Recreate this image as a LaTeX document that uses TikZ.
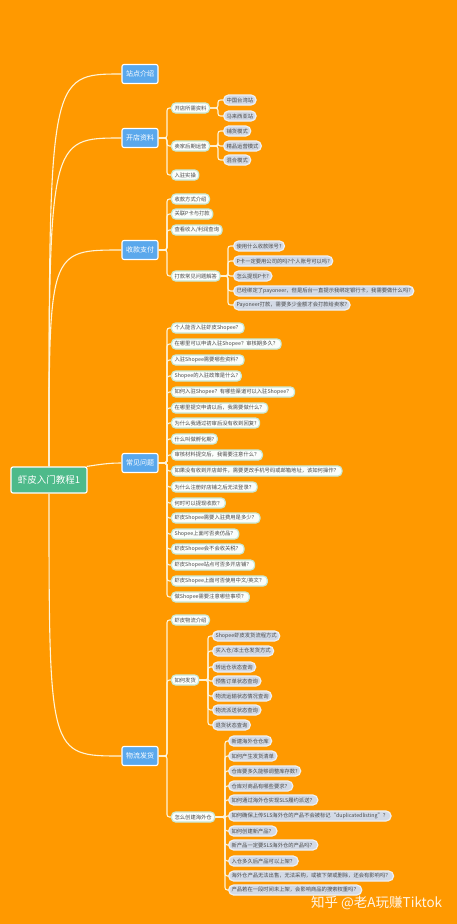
\documentclass[tikz,border=0pt]{standalone}
\usepackage{fontspec}
\setmainfont{Noto Sans CJK SC}
\definecolor{bg}{HTML}{FF9900}
\definecolor{topicblue}{HTML}{5AA8EC}
\definecolor{rootgreen}{HTML}{4EBA8A}
\definecolor{leaffill}{HTML}{D3DAE6}
\definecolor{leafline}{HTML}{EEF1F5}
\definecolor{subfill}{HTML}{FAFDFB}
\definecolor{subline}{HTML}{C8E9D4}
\definecolor{linec}{HTML}{FFF4D8}
\definecolor{txt}{HTML}{4A4A4A}
\tikzset{
  conn/.style={draw=linec, line width=1.1pt, rounded corners=2.5pt},
  rootbox/.style={fill=rootgreen, draw=white, line width=1.2pt, rounded corners=2pt, text=white,
    font=\fontsize{9.5}{10}\selectfont, minimum width=76pt, minimum height=26pt, inner sep=0pt},
  topic/.style={fill=topicblue, draw=white, line width=1.1pt, rounded corners=2pt, text=white,
    font=\fontsize{7}{8}\selectfont, minimum width=36pt, minimum height=19pt, inner sep=0pt},
  sub/.style={fill=subfill, draw=subline, line width=1.2pt, rounded corners=4pt, text=txt,
    font=\fontsize{5.3}{6}\selectfont, minimum height=10pt, inner ysep=0pt, inner xsep=3pt, anchor=west},
  leaf/.style={sub, fill=leaffill, draw=leafline, rounded corners=5pt},
  wmark/.style={text=white, opacity=0.9, font=\fontsize{13.5}{14}\selectfont, anchor=west, inner sep=0pt}
}
\begin{document}
\begin{tikzpicture}[x=1pt,y=-1pt]
\fill[bg] (0,0) rectangle (457,924);
\useasboundingbox (0,0) rectangle (457,924);

% root and topics
\node[rootbox] (root) at (49,480) {虾皮入门教程1};
\node[topic] (zd) at (140,74) {站点介绍};
\node[topic] (kd) at (140,138) {开店资料};
\node[topic] (sk) at (140,250) {收款支付};
\node[topic] (cj) at (140,463) {常见问题};
\node[topic] (wl) at (140,756) {物流发货};

\draw[conn] (root.north) .. controls (root.north |- zd.west) .. (zd.west);
\draw[conn] (root.north) .. controls (root.north |- kd.west) .. (kd.west);
\draw[conn] (root.north) .. controls (root.north |- sk.west) .. (sk.west);
\draw[conn] ([xshift=-1pt]root.north east) to[out=8,in=180] (cj.west);
\draw[conn] (root.south) .. controls (root.south |- wl.west) .. (wl.west);

% 开店资料
\node[sub] (a1) at (171,108) {开店所需资料};
\node[sub] (a2) at (171,146) {卖家后期运营};
\node[sub] (a3) at (171,175) {入驻实操};
\node[leaf] (a11) at (223,100) {中国台湾站};
\node[leaf] (a12) at (223,116) {马来西亚站};
\node[leaf] (a21) at (223,131) {铺货模式};
\node[leaf] (a22) at (223,146) {精品运营模式};
\node[leaf] (a23) at (223,160) {混合模式};
\foreach \c in {a1,a2,a3} \draw[conn] (kd.east) -- ([xshift=-4pt]kd.east -| \c.west) |- (\c.west);
\foreach \c in {a11,a12} \draw[conn] (a1.east) -- ([xshift=-5pt]a1.east -| \c.west) |- (\c.west);
\foreach \c in {a21,a22,a23} \draw[conn] (a2.east) -- ([xshift=-5pt]a2.east -| \c.west) |- (\c.west);

% 收款支付
\node[sub] (b1) at (171,199) {收款方式介绍};
\node[sub] (b2) at (171,214) {关联P卡与打款};
\node[sub] (b3) at (171,230) {查看收入/利润查询};
\node[sub] (b4) at (171,276) {打款常见问题解答};
\node[leaf] (b41) at (233,246) {使用什么收款账号?};
\node[leaf] (b42) at (233,261) {P卡一定要用公司的吗?个人账号可以吗?};
\node[leaf] (b43) at (233,276) {怎么提现P卡?};
\node[leaf] (b44) at (233,291) {已经绑定了payoneer，但是后台一直提示我绑定银行卡，我需要做什么吗?};
\node[leaf] (b45) at (233,305) {Payoneer打款，需要多少金额才会打款给卖家?};
\foreach \c in {b1,b2,b3,b4} \draw[conn] (sk.east) -- ([xshift=-4pt]sk.east -| \c.west) |- (\c.west);
\foreach \c in {b41,b42,b43,b44,b45} \draw[conn] (b4.east) -- ([xshift=-5pt]b4.east -| \c.west) |- (\c.west);

% 常见问题
\node[sub] (q1) at (171,328) {个人能否入驻虾皮Shopee？};
\node[sub] (q2) at (171,344) {在哪里可以申请入驻Shopee？审核期多久？};
\node[sub] (q3) at (171,360) {入驻Shopee需要哪些资料？};
\node[sub] (q4) at (171,376) {Shopee的入驻政策是什么?};
\node[sub] (q5) at (171,392) {如何入驻Shopee？有哪些渠道可以入驻Shopee？};
\node[sub] (q6) at (171,408) {在哪里提交申请以后，我需要做什么？};
\node[sub] (q7) at (171,423) {为什么我通过初审后没有收到回复?};
\node[sub] (q8) at (171,439) {什么叫做孵化期?};
\node[sub] (q9) at (171,455) {审核材料提交后，我需要注意什么？};
\node[sub] (q10) at (171,471) {如果没有收到开店邮件，需要更改手机号码或邮箱地址，该如何操作？};
\node[sub] (q11) at (171,487) {为什么注册好店铺之后无法登录？};
\node[sub] (q12) at (171,503) {何时可以提现收款？};
\node[sub] (q13) at (171,518) {虾皮Shopee需要入驻费用是多少？};
\node[sub] (q14) at (171,534) {Shopee上面可否卖仿品？};
\node[sub] (q15) at (171,549) {虾皮Shopee会不会收关税？};
\node[sub] (q16) at (171,565) {虾皮Shopee站点可否多开店铺？};
\node[sub] (q17) at (171,581) {虾皮Shopee上面可否使用中文/英文？};
\node[sub] (q18) at (171,597) {做Shopee需要注意哪些事项？};
\foreach \c in {q1,q2,q3,q4,q5,q6,q7,q8,q9,q10,q11,q12,q13,q14,q15,q16,q17,q18}
  \draw[conn] (cj.east) -- ([xshift=-4pt]cj.east -| \c.west) |- (\c.west);

% 物流发货
\node[sub] (c1) at (171,620) {虾皮物流介绍};
\node[sub] (c2) at (171,680) {如何发货};
\node[sub] (c3) at (171,817) {怎么创建海外仓};
\foreach \c in {c1,c2,c3} \draw[conn] (wl.east) -- ([xshift=-4pt]wl.east -| \c.west) |- (\c.west);

\node[leaf] (c21) at (212,636) {Shopee虾皮发货流程方式};
\node[leaf] (c22) at (212,651) {买入仓/本土仓发货方式};
\node[leaf] (c23) at (212,667) {转运仓状态查询};
\node[leaf] (c24) at (212,681) {预售订单状态查询};
\node[leaf] (c25) at (212,696) {物流运输状态情况查询};
\node[leaf] (c26) at (212,710) {物流派送状态查询};
\node[leaf] (c27) at (212,725) {退货状态查询};
\foreach \c in {c21,c22,c23,c24,c25,c26,c27} \draw[conn] (c2.east) -- ([xshift=-4pt]c2.east -| \c.west) |- (\c.west);

\node[leaf] (c31) at (228,741) {新建海外仓仓库};
\node[leaf] (c32) at (228,756) {如何产生发货清单};
\node[leaf] (c33) at (228,771) {仓库要多久能够调整库存数?};
\node[leaf] (c34) at (228,786) {仓库对商品有哪些要求？};
\node[leaf] (c35) at (228,800) {如何通过海外仓实现SLS履约派送？};
\node[leaf] (c36) at (228,816) {如何确保上传SLS海外仓的产品不会被标记“duplicatedlisting”？};
\node[leaf] (c37) at (228,831) {如何创建新产品？};
\node[leaf] (c38) at (228,845) {新产品一定要SLS海外仓的产品吗？};
\node[leaf] (c39) at (228,861) {入仓多久后产品可以上架？};
\node[leaf] (c310) at (228,876) {海外仓产品无法出售，无法采购，或被下架或删除，还会有影响吗？};
\node[leaf] (c311) at (228,890) {产品若在一段时间未上架，会影响商品的搜索权重吗？};
\foreach \c in {c31,c32,c33,c34,c35,c36,c37,c38,c39,c310,c311} \draw[conn] (c3.east) -- ([xshift=-3pt]c3.east -| \c.west) |- (\c.west);

% watermark
\node[wmark] (wm) at (311,903) {知乎 @老A玩赚Tiktok};
\end{tikzpicture}
\end{document}
